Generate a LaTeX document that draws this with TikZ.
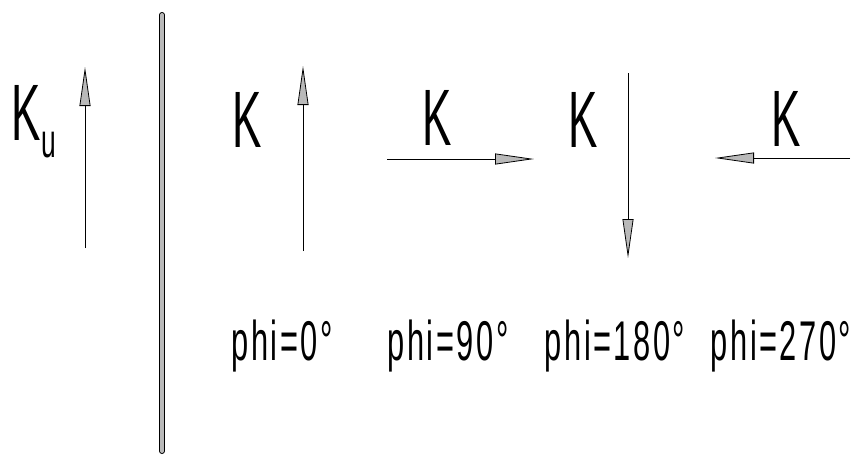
\documentclass[tikz,border=0pt]{standalone}
\usepackage{fontspec}
\newfontfamily\letterfont[FakeStretch=0.55]{Liberation Sans}
\newfontfamily\anglefont[FakeStretch=0.55, LetterSpace=4.5]{Liberation Sans}
\usetikzlibrary{arrows.meta, positioning}

\begin{document}
\begin{tikzpicture}[
    x = 1pt, y = -1pt,
    vec/.style = {
      thick, -{Triangle[length = 39pt, width = 11pt, fill = gray!55]}
    },
    vecname/.style = {
      inner sep = 0pt, font = \letterfont\fontsize{80}{80}\selectfont
    },
    angle/.style = {
      inner sep = 0pt, anchor = base,
      font = \anglefont\fontsize{56}{56}\selectfont
    },
    divider/.style = {
      line width = 1pt, double = gray!55, double distance = 4pt,
      line cap = round
    },
    ]
    \useasboundingbox (0,0) rectangle (851,456);

    % reference vector
    \node  [vecname, anchor = west]  (Ku)  at (11,122)
      {K\kern1pt\raisebox{-17pt}{\fontsize{48}{48}\selectfont u}};
    \coordinate  (ku0)  at (85,248);
    \coordinate  (ku1)  at (85,67);
    \draw  [vec]  (ku0)  --  (ku1);

    % divider
    \coordinate  (d0)  at (162,15);
    \coordinate  (d1)  at (162,451);
    \draw  [divider]  (d0)  --  (d1);

    % rotated vectors
    \node  [vecname]  (K1)  at (247,120)  {K};
    \node  [vecname]  (K2)  at (437,118)  {K};
    \node  [vecname]  (K3)  at (583,120)  {K};
    \node  [vecname]  (K4)  at (786,119)  {K};

    \coordinate  (k1a)  at (303,251);
    \coordinate  (k1b)  at (303,66);
    \coordinate  (k2a)  at (387,159);
    \coordinate  (k2b)  at (534,159);
    \coordinate  (k3a)  at (628,73);
    \coordinate  (k3b)  at (628,258);
    \coordinate  (k4a)  at (850,158);
    \coordinate  (k4b)  at (715,158);

    \foreach \i in {1, ..., 4}
    \draw  [vec]  (k\i a)  --  (k\i b);

    % angles
    \foreach \i/\x/\a in {1/282/0, 2/448/90, 3/615/180, 4/781/270}
    \node  [angle]  (phi\i)  at (\x,360)  {phi=\a°};
\end{tikzpicture}
\end{document}
